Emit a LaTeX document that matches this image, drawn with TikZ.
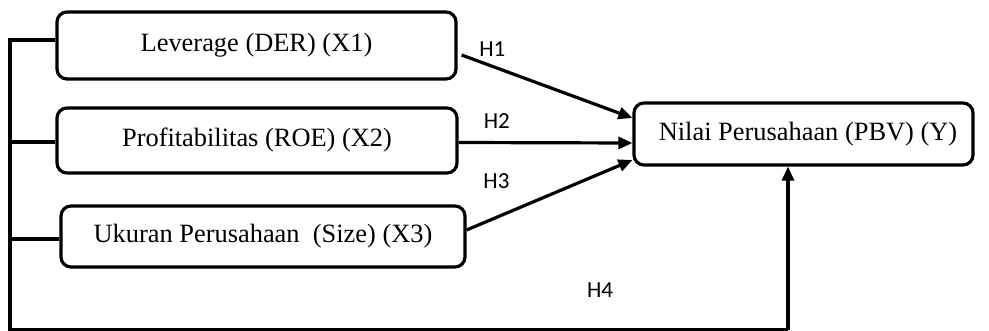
\documentclass[tikz,border=0pt]{standalone}
\usepackage{fontspec}
\setmainfont{Liberation Serif}
\newfontfamily\hfont{Carlito}
\usetikzlibrary{arrows.meta, calc}

\begin{document}
\begin{tikzpicture}[x=0.5pt, y=-0.5pt,
		var/.style={draw, line width=1.6pt, rounded corners=5pt, align=center, font=\fontsize{13.2}{16}\selectfont},
		link/.style={line width=1.6pt},
		path/.style={link, -{Triangle[length=7pt, width=6pt]}},
		hyp/.style={font=\hfont\fontsize{11.5}{13}\selectfont}]
		\useasboundingbox (0,0) rectangle (989,331);

		\node[var, minimum width=199.5pt, minimum height=33.5pt] (x1) at (256.5,45.5) {Leverage (DER) (X1)};
		\node[var, minimum width=200pt, minimum height=32.5pt] (x2) at (257,140.5) {Profitabilitas (ROE) (X2)};
		\node[var, minimum width=202pt, minimum height=30.5pt] (x3) at (263,236.5) {Ukuran Perusahaan\ \ (Size) (X3)};
		\node[var, minimum width=169.5pt, minimum height=31pt] (y) at (803.5,134) {\hspace{4.5pt}Nilai Perusahaan (PBV) (Y)};

		\coordinate (top) at (10,40);
		\coordinate (mid) at (10,142);
		\coordinate (low) at (10,239);
		\coordinate (bot) at (10,330);
		\coordinate (h4) at (788,330);

		\draw[link] (top -| x1.west) -- (top) -- (bot) -- (h4);
		\draw[link] (mid -| x2.west) -- (mid);
		\draw[link] (low -| x3.west) -- (low);

		\draw[path] ([shift={(2pt,-4.75pt)}]x1.east) -- ([yshift=8pt]y.west) node[hyp, pos=0.18, above=1pt] {H1};
		\draw[path] ([yshift=-1pt]x2.east) -- ([yshift=-4.5pt]y.west) node[hyp, pos=0.22, above=3pt] {H2};
		\draw[path] ([yshift=3.25pt]x3.east) -- ([yshift=-13pt]y.west) node[hyp, pos=0.18, above=10pt] {H3};
		\draw[path] (h4) -- (h4 |- y.south);
		\node[hyp] (lblh4) at ($(h4)+(-188,-40)$) {H4};
	\end{tikzpicture}
\end{document}
